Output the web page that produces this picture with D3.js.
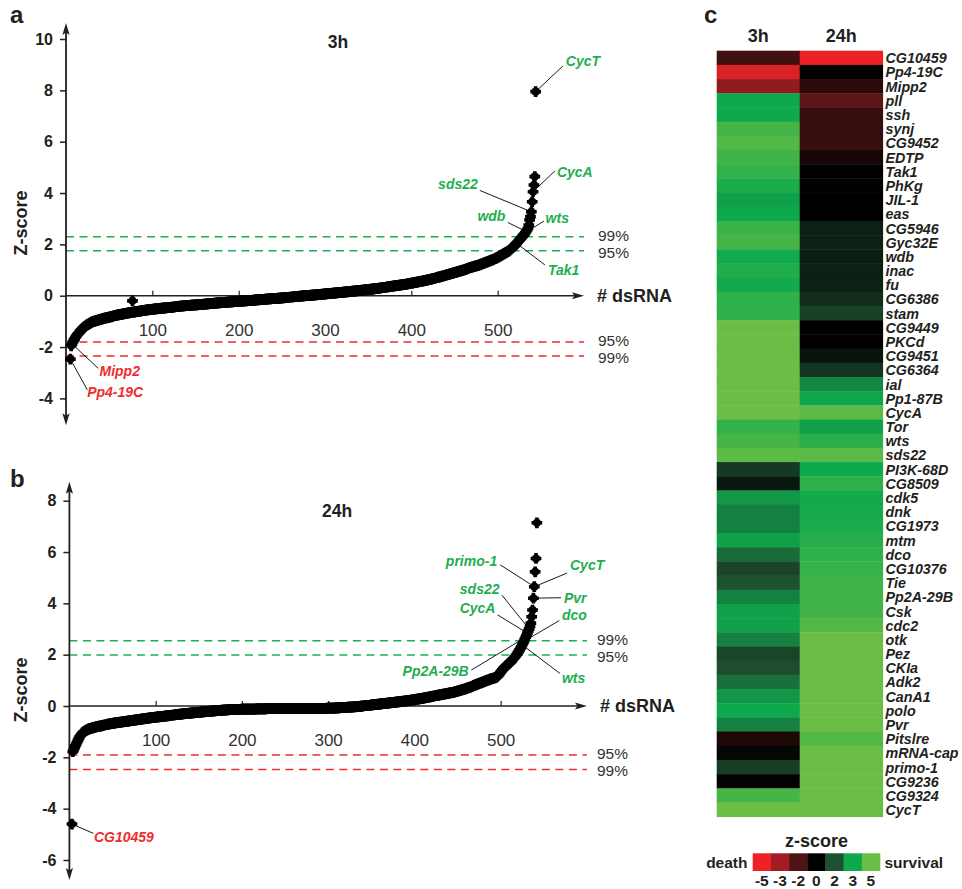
<!DOCTYPE html>
<html>
<head>
<meta charset="utf-8">
<script src="https://cdn.jsdelivr.net/npm/d3@7"></script>
<style>
  body { margin: 0; background: #fff; }
  svg { display: block; }
</style>
</head>
<body>
<div id="figure"></div>
<script>

/* DATA ******************************************************************/

// sorted z-scores (3h), one value per dsRNA, ranks 5..544
var z3h = [
  -2.47,-1.95,-1.88,-1.80,-1.74,-1.68,-1.62,-1.57,-1.52,-1.48,
  -1.44,-1.40,-1.36,-1.32,-1.28,-1.25,-1.22,-1.19,-1.17,-1.15,
  -1.13,-1.11,-1.09,-1.07,-1.05,-1.03,-1.01,-1.00,-0.99,-0.98,
  -0.97,-0.96,-0.95,-0.94,-0.93,-0.92,-0.91,-0.90,-0.89,-0.88,
  -0.87,-0.86,-0.86,-0.85,-0.84,-0.83,-0.82,-0.82,-0.81,-0.80,
  -0.79,-0.78,-0.78,-0.77,-0.76,-0.75,-0.75,-0.74,-0.73,-0.73,
  -0.72,-0.71,-0.71,-0.70,-0.69,-0.69,-0.68,-0.67,-0.67,-0.66,
  -0.66,-0.65,-0.20,-0.64,-0.64,-0.63,-0.62,-0.62,-0.61,-0.61,
  -0.60,-0.60,-0.59,-0.58,-0.58,-0.57,-0.57,-0.56,-0.56,-0.55,
  -0.55,-0.54,-0.54,-0.53,-0.53,-0.53,-0.52,-0.52,-0.51,-0.51,
  -0.51,-0.50,-0.50,-0.49,-0.49,-0.49,-0.48,-0.48,-0.48,-0.47,
  -0.47,-0.47,-0.46,-0.46,-0.46,-0.45,-0.45,-0.45,-0.44,-0.44,
  -0.44,-0.43,-0.43,-0.43,-0.42,-0.42,-0.42,-0.41,-0.41,-0.41,
  -0.40,-0.40,-0.40,-0.39,-0.39,-0.39,-0.38,-0.38,-0.38,-0.38,
  -0.37,-0.37,-0.37,-0.37,-0.36,-0.36,-0.36,-0.36,-0.35,-0.35,
  -0.35,-0.35,-0.34,-0.34,-0.34,-0.33,-0.33,-0.33,-0.32,-0.32,
  -0.32,-0.31,-0.31,-0.31,-0.30,-0.30,-0.30,-0.29,-0.29,-0.29,
  -0.28,-0.28,-0.28,-0.28,-0.27,-0.27,-0.27,-0.26,-0.26,-0.26,
  -0.26,-0.25,-0.25,-0.25,-0.25,-0.24,-0.24,-0.24,-0.24,-0.23,
  -0.23,-0.23,-0.23,-0.22,-0.22,-0.22,-0.22,-0.21,-0.21,-0.21,
  -0.21,-0.20,-0.20,-0.20,-0.20,-0.19,-0.19,-0.19,-0.18,-0.18,
  -0.18,-0.18,-0.17,-0.17,-0.17,-0.16,-0.16,-0.16,-0.16,-0.15,
  -0.15,-0.15,-0.14,-0.14,-0.14,-0.14,-0.13,-0.13,-0.13,-0.12,
  -0.12,-0.12,-0.12,-0.11,-0.11,-0.11,-0.11,-0.10,-0.10,-0.10,
  -0.10,-0.09,-0.09,-0.09,-0.09,-0.08,-0.08,-0.08,-0.07,-0.07,
  -0.07,-0.07,-0.06,-0.06,-0.06,-0.05,-0.05,-0.05,-0.05,-0.04,
  -0.04,-0.04,-0.03,-0.03,-0.03,-0.03,-0.02,-0.02,-0.02,-0.01,
  -0.01,-0.01,0.00,0.00,0.00,0.01,0.01,0.01,0.01,0.02,
  0.02,0.02,0.02,0.03,0.03,0.03,0.04,0.04,0.04,0.05,
  0.05,0.05,0.06,0.06,0.06,0.07,0.07,0.07,0.08,0.08,
  0.08,0.09,0.09,0.09,0.10,0.10,0.10,0.11,0.11,0.11,
  0.12,0.12,0.12,0.13,0.13,0.13,0.14,0.14,0.14,0.15,
  0.15,0.15,0.16,0.16,0.17,0.17,0.17,0.18,0.18,0.18,
  0.19,0.19,0.19,0.20,0.20,0.20,0.21,0.21,0.22,0.22,
  0.22,0.23,0.23,0.24,0.24,0.24,0.25,0.25,0.26,0.26,
  0.26,0.27,0.27,0.28,0.28,0.29,0.29,0.29,0.30,0.30,
  0.31,0.31,0.32,0.32,0.32,0.33,0.33,0.34,0.34,0.35,
  0.35,0.36,0.36,0.37,0.37,0.38,0.38,0.39,0.39,0.40,
  0.40,0.41,0.41,0.42,0.42,0.43,0.43,0.44,0.44,0.45,
  0.45,0.46,0.47,0.47,0.48,0.49,0.49,0.50,0.51,0.51,
  0.52,0.53,0.53,0.54,0.55,0.55,0.56,0.57,0.57,0.58,
  0.59,0.60,0.60,0.61,0.62,0.63,0.63,0.64,0.65,0.66,
  0.67,0.67,0.68,0.69,0.70,0.71,0.72,0.72,0.73,0.74,
  0.75,0.76,0.77,0.78,0.79,0.80,0.81,0.82,0.83,0.84,
  0.85,0.86,0.87,0.88,0.89,0.90,0.91,0.92,0.93,0.94,
  0.95,0.96,0.97,0.98,0.99,1.00,1.01,1.02,1.03,1.05,
  1.06,1.07,1.08,1.09,1.10,1.11,1.12,1.13,1.14,1.15,
  1.16,1.17,1.18,1.19,1.20,1.22,1.23,1.24,1.26,1.27,
  1.28,1.30,1.31,1.32,1.34,1.35,1.36,1.38,1.39,1.40,
  1.42,1.43,1.44,1.46,1.47,1.49,1.51,1.53,1.55,1.57,
  1.59,1.61,1.63,1.65,1.67,1.69,1.71,1.73,1.75,1.78,
  1.81,1.84,1.87,1.90,1.93,1.96,2.00,2.04,2.08,2.12,
  2.16,2.20,2.24,2.28,2.32,2.36,2.40,2.45,2.50,2.56,
  2.62,2.75,2.95,3.08,3.27,3.66,4.05,4.31,4.64,7.95
];

// sorted z-scores (24h), ranks 3..542
var z24h = [
  -4.60,-1.78,
  -1.70,-1.62,-1.55,-1.48,-1.40,-1.33,-1.26,-1.20,-1.15,-1.10,
  -1.06,-1.03,-1.00,-0.98,-0.96,-0.94,-0.92,-0.90,-0.89,-0.88,
  -0.87,-0.86,-0.85,-0.84,-0.83,-0.82,-0.81,-0.80,-0.80,-0.79,
  -0.78,-0.77,-0.77,-0.76,-0.75,-0.74,-0.74,-0.73,-0.72,-0.72,
  -0.71,-0.70,-0.70,-0.69,-0.68,-0.68,-0.67,-0.67,-0.66,-0.66,
  -0.65,-0.65,-0.64,-0.64,-0.63,-0.63,-0.62,-0.62,-0.61,-0.61,
  -0.60,-0.60,-0.59,-0.59,-0.58,-0.58,-0.57,-0.57,-0.56,-0.56,
  -0.55,-0.55,-0.54,-0.54,-0.53,-0.53,-0.52,-0.52,-0.51,-0.51,
  -0.50,-0.50,-0.49,-0.49,-0.48,-0.48,-0.47,-0.47,-0.46,-0.46,
  -0.45,-0.45,-0.44,-0.44,-0.44,-0.43,-0.43,-0.42,-0.42,-0.42,
  -0.41,-0.41,-0.40,-0.40,-0.40,-0.39,-0.39,-0.38,-0.38,-0.38,
  -0.37,-0.37,-0.36,-0.36,-0.36,-0.35,-0.35,-0.35,-0.34,-0.34,
  -0.33,-0.33,-0.33,-0.32,-0.32,-0.32,-0.31,-0.31,-0.30,-0.30,
  -0.30,-0.29,-0.29,-0.29,-0.28,-0.28,-0.28,-0.27,-0.27,-0.27,
  -0.26,-0.26,-0.26,-0.25,-0.25,-0.25,-0.24,-0.24,-0.24,-0.23,
  -0.23,-0.23,-0.22,-0.22,-0.22,-0.21,-0.21,-0.21,-0.20,-0.20,
  -0.20,-0.20,-0.19,-0.19,-0.19,-0.18,-0.18,-0.18,-0.18,-0.17,
  -0.17,-0.17,-0.16,-0.16,-0.16,-0.16,-0.15,-0.15,-0.15,-0.15,
  -0.14,-0.14,-0.14,-0.14,-0.13,-0.13,-0.13,-0.13,-0.13,-0.13,
  -0.13,-0.13,-0.13,-0.13,-0.13,-0.12,-0.12,-0.12,-0.12,-0.12,
  -0.12,-0.12,-0.12,-0.12,-0.12,-0.12,-0.12,-0.12,-0.12,-0.12,
  -0.12,-0.12,-0.11,-0.11,-0.11,-0.11,-0.11,-0.11,-0.11,-0.11,
  -0.11,-0.11,-0.11,-0.11,-0.10,-0.10,-0.10,-0.10,-0.10,-0.10,
  -0.10,-0.10,-0.10,-0.10,-0.10,-0.10,-0.10,-0.10,-0.10,-0.10,
  -0.10,-0.10,-0.10,-0.10,-0.10,-0.10,-0.10,-0.10,-0.10,-0.10,
  -0.10,-0.10,-0.10,-0.10,-0.10,-0.10,-0.10,-0.10,-0.10,-0.10,
  -0.10,-0.10,-0.10,-0.10,-0.10,-0.10,-0.10,-0.10,-0.10,-0.10,
  -0.10,-0.10,-0.10,-0.10,-0.09,-0.09,-0.09,-0.09,-0.09,-0.09,
  -0.09,-0.09,-0.09,-0.09,-0.09,-0.09,-0.09,-0.09,-0.09,-0.09,
  -0.09,-0.09,-0.09,-0.09,-0.08,-0.08,-0.08,-0.08,-0.08,-0.08,
  -0.08,-0.08,-0.08,-0.08,-0.07,-0.07,-0.07,-0.07,-0.07,-0.06,
  -0.06,-0.06,-0.06,-0.05,-0.05,-0.05,-0.05,-0.05,-0.04,-0.04,
  -0.04,-0.04,-0.04,-0.03,-0.03,-0.03,-0.03,-0.02,-0.02,-0.02,
  -0.01,-0.01,-0.01,0.00,0.00,0.00,0.01,0.01,0.01,0.02,
  0.02,0.02,0.03,0.03,0.03,0.04,0.04,0.04,0.05,0.05,
  0.05,0.06,0.06,0.07,0.07,0.07,0.08,0.08,0.09,0.09,
  0.09,0.10,0.10,0.11,0.11,0.11,0.12,0.12,0.13,0.13,
  0.13,0.14,0.14,0.15,0.15,0.16,0.16,0.16,0.17,0.17,
  0.18,0.18,0.19,0.19,0.19,0.20,0.20,0.21,0.21,0.22,
  0.22,0.23,0.23,0.24,0.24,0.25,0.25,0.26,0.27,0.27,
  0.28,0.28,0.29,0.30,0.30,0.31,0.31,0.32,0.33,0.33,
  0.34,0.35,0.35,0.36,0.37,0.37,0.38,0.39,0.39,0.40,
  0.40,0.41,0.41,0.42,0.43,0.43,0.44,0.45,0.45,0.46,
  0.47,0.47,0.48,0.49,0.49,0.50,0.51,0.51,0.52,0.53,
  0.53,0.54,0.55,0.56,0.57,0.58,0.59,0.60,0.61,0.62,
  0.63,0.64,0.65,0.66,0.67,0.68,0.70,0.71,0.72,0.73,
  0.74,0.76,0.77,0.78,0.80,0.81,0.82,0.84,0.85,0.86,
  0.88,0.89,0.90,0.92,0.93,0.94,0.96,0.97,0.98,1.00,
  1.01,1.02,1.04,1.05,1.06,1.07,1.08,1.09,1.10,1.11,
  1.13,1.15,1.18,1.22,1.27,1.32,1.37,1.41,1.45,1.49,
  1.52,1.55,1.58,1.61,1.64,1.67,1.70,1.73,1.77,1.81,
  1.85,1.89,1.93,1.98,2.03,2.08,2.13,2.19,2.25,2.31,
  2.38,2.45,2.52,2.60,2.68,2.76,2.84,2.92,3.00,3.10,
  3.23,3.48,3.74,4.20,4.65,5.23,5.75,7.14
];

var xTicks = [100, 200, 300, 400, 500];
var yTicks3h = [-4, -2, 0, 2, 4, 6, 8, 10];
var yTicks24h = [-6, -4, -2, 0, 2, 4, 6, 8];

// significance cut-offs (z-score) and their labels
var cutLabels = ["99%", "95%", "95%", "99%"];
var cuts3h = [2.3, 1.75, -1.8, -2.35];
var cuts24h = [2.54, 1.99, -1.91, -2.47];

// labelled genes: rank of the point, end of leader line and text spot in (rank, z)
var notes3h = [
  {gene: "CycT",    rank: 544, line: [575.6, 8.95],  text: [579, 8.95],   anchor: "start", kind: "up"},
  {gene: "CycA",    rank: 541, line: [566.3, 4.86],  text: [568.6, 4.62], anchor: "start", kind: "up"},
  {gene: "sds22",   rank: 539, line: [479.4, 4.10],  text: [477, 4.16],   anchor: "end",   kind: "up"},
  {gene: "wdb",     rank: 533, line: [512, 2.85],    text: [509, 2.9],    anchor: "end",   kind: "up"},
  {gene: "wts",     rank: 532, line: [553.6, 2.91],  text: [555.5, 2.83], anchor: "start", kind: "up"},
  {gene: "Tak1",    rank: 522, line: [554.7, 1.2],   text: [558.2, 0.81], anchor: "start", kind: "up"},
  {gene: "Mipp2",   rank: 7,   line: [37.4, -2.83],  text: [38.8, -3.13], anchor: "start", kind: "down"},
  {gene: "Pp4-19C", rank: 5,   line: [24.7, -3.67],  text: [24.5, -3.95], anchor: "start", kind: "down"}
];
var notes24h = [
  {gene: "primo-1",  rank: 539, line: [499.5, 5.5],   text: [496, 5.45],  anchor: "end",   kind: "up"},
  {gene: "CycT",     rank: 539, line: [577, 5.18],    text: [580.4, 5.3], anchor: "start", kind: "up"},
  {gene: "sds22",    rank: 533, line: [501.5, 4.32],  text: [498.7, 4.36], anchor: "end",  kind: "up"},
  {gene: "Pvr",      rank: 538, line: [570, 4.22],    text: [573.4, 4.01], anchor: "start", kind: "up"},
  {gene: "CycA",     rank: 531, line: [496.5, 3.55],  text: [494, 3.62],  anchor: "end",   kind: "up"},
  {gene: "dco",      rank: 527, line: [568, 3.33],    text: [571, 3.37],  anchor: "start", kind: "up"},
  {gene: "Pp2A-29B", rank: 529, line: [466, 1.40],    text: [463, 1.17],  anchor: "end",   kind: "up"},
  {gene: "wts",      rank: 525, line: [568.7, 1.27],  text: [571, 0.9],   anchor: "start", kind: "up"},
  {gene: "CG10459",  rank: 3,   line: [27.7, -4.96],  text: [28.5, -5.3], anchor: "start", kind: "down"}
];

// heatmap (panel c)
var heatColumns = ["3h", "24h"];
var genes = ["CG10459","Pp4-19C","Mipp2","pll","ssh","synj","CG9452","EDTP","Tak1","PhKg",
  "JIL-1","eas","CG5946","Gyc32E","wdb","inac","fu","CG6386","stam","CG9449",
  "PKCd","CG9451","CG6364","ial","Pp1-87B","CycA","Tor","wts","sds22","PI3K-68D",
  "CG8509","cdk5","dnk","CG1973","mtm","dco","CG10376","Tie","Pp2A-29B","Csk",
  "cdc2","otk","Pez","CKIa","Adk2","CanA1","polo","Pvr","Pitslre","mRNA-cap",
  "primo-1","CG9236","CG9324","CycT"];
var heat3h = [-1.7,-4.5,-2.8,3.0,3.0,4.2,4.5,4.1,3.8,3.3,
  2.9,3.0,4.0,4.2,3.1,3.4,3.1,3.7,3.7,5,
  5,5,5,5,5,5,3.8,4.2,4.7,1.4,
  0.6,2.8,2.55,2.55,2.9,2.3,1.7,2.0,2.55,2.9,
  2.9,2.55,1.7,1.9,2.35,2.8,3.0,2.55,-0.8,0.2,
  1.5,0.05,4.2,5];
var heat24h = [-5,0,-1.1,-2.2,-1.4,-1.4,-1.45,-0.6,0,0,
  0,0,0.8,0.8,0.75,0.8,0.8,1.1,1.6,0,
  0,0.5,1.3,2.6,2.95,4.7,2.9,3.6,4.7,3.0,
  3.7,3.1,3.2,3.3,3.5,3.7,3.9,4.1,4.1,4.1,
  4.5,5,5,5,5,5,5,5,4.5,5,
  5,5,5,5];

var legendTicks = [-5, -3, -2, 0, 2, 3, 5];
var legendColors = ["#ed2224", "#a11d23", "#4e1315", "#000000", "#1e5130", "#0ea94d", "#6abd45"];

/* SETTINGS **************************************************************/

var fontFamily = '"Liberation Sans", Arial, Helvetica, sans-serif';
var ink = "#231f20";
var upColor = "#1fae4f";
var downColor = "#ee2d2d";

var svg = d3.select("#figure")
  .append("svg")
  .attr("width", 962)
  .attr("height", 889)
  .attr("font-family", fontFamily)
  .style("background-color", "#fff");

/* SCATTER PANELS ********************************************************/

var drawScatter = function(p) {
  var x = d3.scaleLinear().domain([0, 600]).range(p.xRange);
  var y = d3.scaleLinear().domain(p.yDomain).range(p.yRange);
  var g = svg.append("g");
  var pts = p.z.map(function(v, i) { return {rank: p.firstRank + i, z: v}; });
  var zAt = function(rank) { return p.z[rank - p.firstRank]; };

  // dashed cut-off lines
  g.selectAll(".cut")
    .data(p.cuts)
    .join("line")
    .attr("x1", x(0)).attr("x2", x(600))
    .attr("y1", d => y(d)).attr("y2", d => y(d))
    .attr("stroke", d => d > 0 ? upColor : downColor)
    .attr("stroke-width", 1.5)
    .attr("stroke-dasharray", "8,5.5");

  // the two labels of each colour sit close, nudge them 1.5px apart
  g.selectAll(".cutlab")
    .data(p.cuts)
    .join("text")
    .attr("x", x(600) + p.pctGap)
    .attr("y", (d, i) => y(d) + (i % 2 === 0 ? -1.5 : 1.5))
    .attr("dy", "0.36em")
    .attr("font-size", 15.5)
    .attr("fill", "#333")
    .text((d, i) => cutLabels[i]);

  // y axis
  var yAxis = g.append("g")
    .attr("transform", "translate(" + x(0) + ",0)")
    .call(d3.axisLeft(y).tickValues(p.yTicks).tickSize(6).tickPadding(7).tickFormat(d => String(d)));
  yAxis.select(".domain").remove();
  yAxis.selectAll(".tick line").attr("stroke", ink).attr("stroke-width", 1.5);
  yAxis.selectAll(".tick text")
    .attr("fill", ink).attr("font-size", 16).attr("font-weight", "bold")
    .attr("font-family", fontFamily);

  var yTop = y(p.axisExtent[1]), yBot = y(p.axisExtent[0]), x0 = x(0);
  g.append("line")
    .attr("x1", x0).attr("x2", x0)
    .attr("y1", yTop + 6).attr("y2", yBot - 6)
    .attr("stroke", ink).attr("stroke-width", 1.8);
  g.append("path")
    .attr("d", "M" + x0 + "," + yTop + "l-3.6,12l3.6,-2.5l3.6,2.5z")
    .attr("fill", ink);
  g.append("path")
    .attr("d", "M" + x0 + "," + yBot + "l-3.6,-12l3.6,2.5l3.6,-2.5z")
    .attr("fill", ink);

  // x axis along z = 0
  var xAxis = g.append("g")
    .attr("transform", "translate(0," + y(0) + ")")
    .call(d3.axisBottom(x).tickValues(xTicks).tickSize(-5).tickPadding(28));
  xAxis.select(".domain").remove();
  xAxis.selectAll(".tick line").attr("stroke", ink).attr("stroke-width", 1.2);
  xAxis.selectAll(".tick text")
    .attr("fill", "#333").attr("font-size", 17).attr("font-family", fontFamily);

  var xEnd = x(600);
  g.append("line")
    .attr("x1", x0).attr("x2", xEnd - 6)
    .attr("y1", y(0)).attr("y2", y(0))
    .attr("stroke", ink).attr("stroke-width", 1.5);
  g.append("path")
    .attr("d", "M" + xEnd + "," + y(0) + "l-12,-3.5l2.5,3.5l-2.5,3.5z")
    .attr("fill", ink);

  g.append("text")
    .attr("x", xEnd + 13).attr("y", y(0)).attr("dy", "0.36em")
    .attr("font-size", 18).attr("font-weight", "bold").attr("fill", ink)
    .text("# dsRNA");

  g.append("text")
    .attr("transform", "translate(" + p.zLabel[0] + "," + p.zLabel[1] + ") rotate(-90)")
    .attr("text-anchor", "middle").attr("dy", "0.36em")
    .attr("font-size", 18).attr("font-weight", "bold").attr("fill", ink)
    .text("Z-score");

  g.append("text")
    .attr("x", p.titlePos[0]).attr("y", p.titlePos[1])
    .attr("text-anchor", "middle")
    .attr("font-size", 17.5).attr("font-weight", "bold").attr("fill", ink)
    .text(p.title);

  g.append("text")
    .attr("x", p.letterPos[0]).attr("y", p.letterPos[1])
    .attr("font-size", 24).attr("font-weight", "bold").attr("fill", ink)
    .text(p.letter);

  // points (cross + round core gives the blurred plus look)
  var dots = g.append("g").selectAll("g")
    .data(pts)
    .join("g")
    .attr("transform", d => "translate(" + x(d.rank) + "," + y(d.z) + ")");
  dots.append("path").attr("d", d3.symbol(d3.symbolCross, 64)).attr("fill", "#000");
  dots.append("path").attr("d", d3.symbol(d3.symbolCircle, 52)).attr("fill", "#000");

  // leader lines and gene labels
  g.append("g").selectAll("line")
    .data(p.notes)
    .join("line")
    .attr("x1", d => x(d.rank)).attr("y1", d => y(zAt(d.rank)))
    .attr("x2", d => x(d.line[0])).attr("y2", d => y(d.line[1]))
    .attr("stroke", "#000").attr("stroke-width", 0.9);

  g.append("g").selectAll("text")
    .data(p.notes)
    .join("text")
    .attr("x", d => x(d.text[0])).attr("y", d => y(d.text[1]))
    .attr("text-anchor", d => d.anchor)
    .attr("font-size", 14).attr("font-weight", "bold").attr("font-style", "italic")
    .attr("fill", d => d.kind === "up" ? upColor : downColor)
    .text(d => d.gene);
};

drawScatter({
  z: z3h, firstRank: 5, xRange: [66, 584],
  yDomain: [-4, 10], yRange: [398.4, 39.0], axisExtent: [-5.05, 10.62],
  yTicks: yTicks3h, cuts: cuts3h, notes: notes3h, pctGap: 14,
  title: "3h", titlePos: [338, 48], letter: "a", letterPos: [10, 23], zLabel: [21, 223]
});

drawScatter({
  z: z24h, firstRank: 3, xRange: [69.4, 586.9],
  yDomain: [-6, 8], yRange: [860, 500.7], axisExtent: [-6.78, 8.74],
  yTicks: yTicks24h, cuts: cuts24h, notes: notes24h, pctGap: 10,
  title: "24h", titlePos: [337, 517], letter: "b", letterPos: [10, 487], zLabel: [21, 690]
});

/* HEATMAP ***************************************************************/

var color = d3.scaleLinear().domain(legendTicks).range(legendColors).clamp(true);

var cx = d3.scaleBand().domain(heatColumns).range([716.7, 882.7]);
var cy = d3.scaleBand().domain(genes).range([50.7, 816.7]);

var cells = [];
genes.forEach(function(gene, i) {
  cells.push({gene: gene, col: "3h", z: heat3h[i]});
  cells.push({gene: gene, col: "24h", z: heat24h[i]});
});

var hm = svg.append("g");
hm.selectAll("rect")
  .data(cells)
  .join("rect")
  .attr("x", d => cx(d.col))
  .attr("y", d => cy(d.gene))
  .attr("width", cx.bandwidth() + 0.4)
  .attr("height", cy.bandwidth() + 0.4)
  .attr("fill", d => color(d.z));

hm.selectAll(".gene")
  .data(genes)
  .join("text")
  .attr("x", 885.5)
  .attr("y", d => cy(d) + cy.bandwidth() - 1.6)
  .attr("font-size", 14.3).attr("font-weight", "bold").attr("font-style", "italic")
  .attr("fill", ink)
  .text(d => d);

hm.selectAll(".col")
  .data(heatColumns)
  .join("text")
  .attr("x", d => cx(d) + cx.bandwidth() / 2)
  .attr("y", 41.5)
  .attr("text-anchor", "middle")
  .attr("font-size", 18).attr("font-weight", "bold").attr("fill", ink)
  .text(d => d);

hm.append("text")
  .attr("x", 704).attr("y", 23)
  .attr("font-size", 24).attr("font-weight", "bold").attr("fill", ink)
  .text("c");

// legend
var lx = d3.scaleBand().domain(legendTicks).range([752.7, 880]);
var lg = svg.append("g");
lg.selectAll("rect")
  .data(legendTicks)
  .join("rect")
  .attr("x", d => lx(d)).attr("y", 853.3)
  .attr("width", lx.bandwidth() + 0.3).attr("height", 17.7)
  .attr("fill", d => color(d));

lg.selectAll(".num")
  .data(legendTicks)
  .join("text")
  .attr("x", d => lx(d) + lx.bandwidth() / 2)
  .attr("y", 885.5)
  .attr("text-anchor", "middle")
  .attr("font-size", 15.5).attr("font-weight", "bold").attr("fill", ink)
  .text(d => String(d));

lg.append("text")
  .attr("x", 816.5).attr("y", 847)
  .attr("text-anchor", "middle")
  .attr("font-size", 18).attr("font-weight", "bold").attr("fill", ink)
  .text("z-score");

lg.append("text")
  .attr("x", 747.5).attr("y", 862.2).attr("dy", "0.36em")
  .attr("text-anchor", "end")
  .attr("font-size", 15.5).attr("font-weight", "bold").attr("fill", ink)
  .text("death");

lg.append("text")
  .attr("x", 884.5).attr("y", 862.2).attr("dy", "0.36em")
  .attr("font-size", 15.5).attr("font-weight", "bold").attr("fill", ink)
  .text("survival");

</script>
</body>
</html>
